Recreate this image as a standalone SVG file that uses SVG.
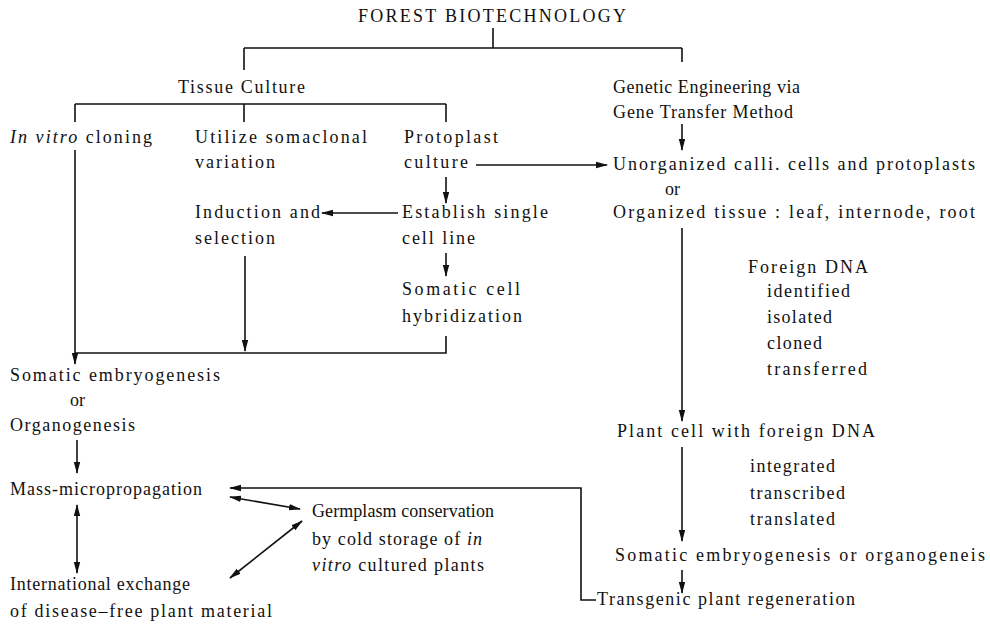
<svg xmlns="http://www.w3.org/2000/svg" width="990" height="633" viewBox="0 0 990 633">
<style>
text{font-family:"Liberation Serif","Times New Roman",serif;font-size:18px;fill:#111;}
.i{font-style:italic;}
.c{fill:none;stroke:#111;stroke-width:1.6;}
</style>
<defs>
<marker id="ah" viewBox="0 0 12 8" refX="11" refY="4" markerWidth="12" markerHeight="8" markerUnits="userSpaceOnUse" orient="auto-start-reverse">
<path d="M0,0.8 L12,4 L0,7.2 z" fill="#111"/>
</marker>
</defs>
<rect width="990" height="633" fill="#fff"/>
<g id="connectors">
<path class="c" d="M493,28 V48 M244,48 H682 M244,48 V70 M682,48 V62"/>
<path class="c" d="M75,104 H446 M75,104 V122 M244,104 V122 M446,104 V122"/>
<path class="c" d="M476,165 H607" marker-end="url(#ah)"/>
<path class="c" d="M682,124 V150" marker-end="url(#ah)"/>
<path class="c" d="M446,177 V203" marker-end="url(#ah)"/>
<path class="c" d="M398,213 H322" marker-end="url(#ah)"/>
<path class="c" d="M446,253 V276" marker-end="url(#ah)"/>
<path class="c" d="M245,256 V351" marker-end="url(#ah)"/>
<path class="c" d="M446,336 V353 H75"/>
<path class="c" d="M75,150 V364" marker-end="url(#ah)"/>
<path class="c" d="M77,440 V473" marker-end="url(#ah)"/>
<path class="c" d="M77,505 V573" marker-start="url(#ah)" marker-end="url(#ah)"/>
<path class="c" d="M230,497 L300,509" marker-start="url(#ah)" marker-end="url(#ah)"/>
<path class="c" d="M302,521 L230,578" marker-start="url(#ah)" marker-end="url(#ah)"/>
<path class="c" d="M596,600 H581 V488 H230" marker-end="url(#ah)"/>
<path class="c" d="M682,228 V421" marker-end="url(#ah)"/>
<path class="c" d="M682,447 V541" marker-end="url(#ah)"/>
<path class="c" d="M682,570 V593" marker-end="url(#ah)"/>
</g>
<g id="title"><text x="358" y="22" textLength="268" lengthAdjust="spacing">FOREST BIOTECHNOLOGY</text></g>
<g id="tissue-culture"><text x="178" y="93" textLength="127" lengthAdjust="spacing">Tissue Culture</text></g>
<g id="genetic-engineering">
<text x="613" y="93" textLength="187" lengthAdjust="spacing">Genetic Engineering via</text>
<text x="613" y="118" textLength="180" lengthAdjust="spacing">Gene Transfer Method</text>
</g>
<g id="in-vitro-cloning"><text x="10" y="143" textLength="142" lengthAdjust="spacing"><tspan class="i">In vitro</tspan> cloning</text></g>
<g id="somaclonal">
<text x="195" y="143" textLength="172" lengthAdjust="spacing">Utilize somaclonal</text>
<text x="195" y="168" textLength="80" lengthAdjust="spacing">variation</text>
</g>
<g id="protoplast">
<text x="404" y="143" textLength="94" lengthAdjust="spacing">Protoplast</text>
<text x="404" y="168" textLength="64" lengthAdjust="spacing">culture</text>
</g>
<g id="unorganized">
<text x="613" y="170" textLength="362" lengthAdjust="spacing">Unorganized calli. cells and protoplasts</text>
<text x="665" y="195">or</text>
<text x="613" y="218" textLength="362" lengthAdjust="spacing">Organized tissue : leaf, internode, root</text>
</g>
<g id="induction">
<text x="195" y="218" textLength="125" lengthAdjust="spacing">Induction and</text>
<text x="195" y="244" textLength="80" lengthAdjust="spacing">selection</text>
</g>
<g id="establish">
<text x="402" y="218" textLength="146" lengthAdjust="spacing">Establish single</text>
<text x="402" y="244" textLength="73" lengthAdjust="spacing">cell line</text>
</g>
<g id="somatic-hybrid">
<text x="402" y="295" textLength="118" lengthAdjust="spacing">Somatic cell</text>
<text x="402" y="322" textLength="120" lengthAdjust="spacing">hybridization</text>
</g>
<g id="somatic-embryogenesis">
<text x="10" y="381" textLength="210" lengthAdjust="spacing">Somatic embryogenesis</text>
<text x="70" y="406">or</text>
<text x="10" y="431" textLength="125" lengthAdjust="spacing">Organogenesis</text>
</g>
<g id="mass-micropropagation"><text x="10" y="495" textLength="192" lengthAdjust="spacing">Mass-micropropagation</text></g>
<g id="international-exchange">
<text x="10" y="590" textLength="180" lengthAdjust="spacing">International exchange</text>
<text x="10" y="617" textLength="262" lengthAdjust="spacing">of disease–free plant material</text>
</g>
<g id="germplasm">
<text x="312" y="517" textLength="182" lengthAdjust="spacing">Germplasm conservation</text>
<text x="312" y="545" textLength="170" lengthAdjust="spacing">by cold storage of <tspan class="i">in</tspan></text>
<text x="312" y="571" textLength="172" lengthAdjust="spacing"><tspan class="i">vitro</tspan> cultured plants</text>
</g>
<g id="foreign-dna">
<text x="748" y="273" textLength="120" lengthAdjust="spacing">Foreign DNA</text>
<text x="767" y="297" textLength="83" lengthAdjust="spacing">identified</text>
<text x="767" y="323" textLength="65" lengthAdjust="spacing">isolated</text>
<text x="767" y="349" textLength="55" lengthAdjust="spacing">cloned</text>
<text x="767" y="375" textLength="100" lengthAdjust="spacing">transferred</text>
</g>
<g id="plant-cell">
<text x="617" y="437" textLength="258" lengthAdjust="spacing">Plant cell with foreign DNA</text>
<text x="750" y="472" textLength="85" lengthAdjust="spacing">integrated</text>
<text x="750" y="499" textLength="95" lengthAdjust="spacing">transcribed</text>
<text x="750" y="525" textLength="85" lengthAdjust="spacing">translated</text>
</g>
<g id="somatic-organogenesis"><text x="615" y="561" textLength="370" lengthAdjust="spacing">Somatic embryogenesis or organogeneis</text></g>
<g id="transgenic"><text x="597" y="605" textLength="258" lengthAdjust="spacing">Transgenic plant regeneration</text></g>
</svg>
